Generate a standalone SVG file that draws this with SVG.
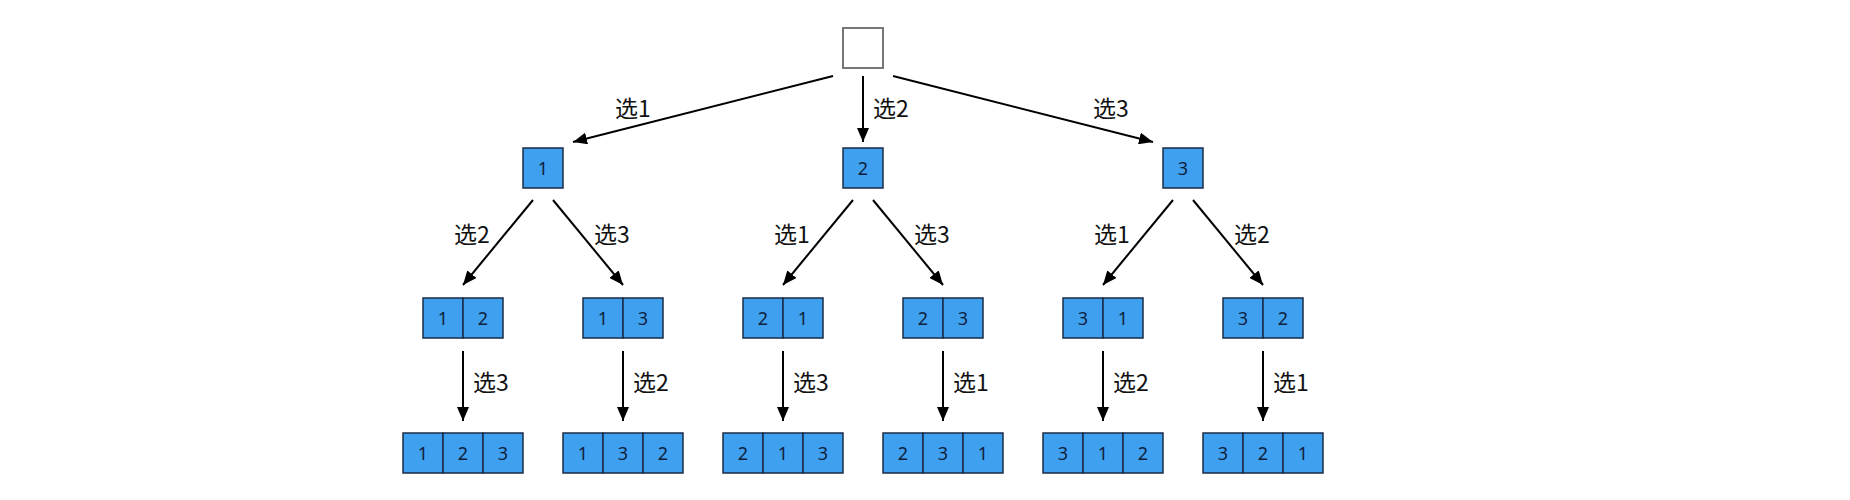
<svg xmlns="http://www.w3.org/2000/svg" width="1850" height="500" viewBox="0 0 1850 500">
<defs>
<style>
.cell{fill:#3fa0f0;stroke:#1b2b45;stroke-width:1.5}
.root{fill:#fff;stroke:#777;stroke-width:2}
.num{font-family:"Noto Sans","DejaVu Sans",sans-serif;font-size:18px;fill:#10203a;text-anchor:middle;dominant-baseline:central}
.lbl{font-family:"Noto Sans CJK SC","Noto Sans",sans-serif;font-size:23px;fill:#111;dominant-baseline:central}
.edge{stroke:#000;stroke-width:2;fill:none;marker-end:url(#ah)}
</style>
<marker id="ah" viewBox="0 0 14 12" refX="14" refY="6" markerWidth="14" markerHeight="12" markerUnits="userSpaceOnUse" orient="auto">
<path d="M0,0 L14,6 L0,12 Z" fill="#000"/>
</marker>
</defs>
<rect width="1850" height="500" fill="#fff"/>
<g id="connectors">
<line class="edge" x1="833" y1="76" x2="573" y2="142"/>
<line class="edge" x1="863" y1="76" x2="863" y2="142"/>
<line class="edge" x1="893" y1="76" x2="1153" y2="142"/>
<line class="edge" x1="533" y1="200" x2="463" y2="285"/>
<line class="edge" x1="553" y1="200" x2="623" y2="285"/>
<line class="edge" x1="853" y1="200" x2="783" y2="285"/>
<line class="edge" x1="873" y1="200" x2="943" y2="285"/>
<line class="edge" x1="1173" y1="200" x2="1103" y2="285"/>
<line class="edge" x1="1193" y1="200" x2="1263" y2="285"/>
<line class="edge" x1="463" y1="351" x2="463" y2="421"/>
<line class="edge" x1="623" y1="351" x2="623" y2="421"/>
<line class="edge" x1="783" y1="351" x2="783" y2="421"/>
<line class="edge" x1="943" y1="351" x2="943" y2="421"/>
<line class="edge" x1="1103" y1="351" x2="1103" y2="421"/>
<line class="edge" x1="1263" y1="351" x2="1263" y2="421"/>
<text class="lbl" x="615" y="107">选1</text>
<text class="lbl" x="873" y="107">选2</text>
<text class="lbl" x="1093" y="107">选3</text>
<text class="lbl" x="454" y="233">选2</text>
<text class="lbl" x="594" y="233">选3</text>
<text class="lbl" x="774" y="233">选1</text>
<text class="lbl" x="914" y="233">选3</text>
<text class="lbl" x="1094" y="233">选1</text>
<text class="lbl" x="1234" y="233">选2</text>
<text class="lbl" x="473" y="381">选3</text>
<text class="lbl" x="633" y="381">选2</text>
<text class="lbl" x="793" y="381">选3</text>
<text class="lbl" x="953" y="381">选1</text>
<text class="lbl" x="1113" y="381">选2</text>
<text class="lbl" x="1273" y="381">选1</text>
</g>
<g id="root"><rect class="root" x="843" y="28" width="40" height="40"/></g>
<g id="n1"><rect class="cell" x="523" y="148" width="40" height="40"/><text class="num" x="543" y="168">1</text></g>
<g id="n2"><rect class="cell" x="843" y="148" width="40" height="40"/><text class="num" x="863" y="168">2</text></g>
<g id="n3"><rect class="cell" x="1163" y="148" width="40" height="40"/><text class="num" x="1183" y="168">3</text></g>
<g id="n12"><rect class="cell" x="423" y="298" width="40" height="40"/><rect class="cell" x="463" y="298" width="40" height="40"/><text class="num" x="443" y="318">1</text><text class="num" x="483" y="318">2</text></g>
<g id="n13"><rect class="cell" x="583" y="298" width="40" height="40"/><rect class="cell" x="623" y="298" width="40" height="40"/><text class="num" x="603" y="318">1</text><text class="num" x="643" y="318">3</text></g>
<g id="n21"><rect class="cell" x="743" y="298" width="40" height="40"/><rect class="cell" x="783" y="298" width="40" height="40"/><text class="num" x="763" y="318">2</text><text class="num" x="803" y="318">1</text></g>
<g id="n23"><rect class="cell" x="903" y="298" width="40" height="40"/><rect class="cell" x="943" y="298" width="40" height="40"/><text class="num" x="923" y="318">2</text><text class="num" x="963" y="318">3</text></g>
<g id="n31"><rect class="cell" x="1063" y="298" width="40" height="40"/><rect class="cell" x="1103" y="298" width="40" height="40"/><text class="num" x="1083" y="318">3</text><text class="num" x="1123" y="318">1</text></g>
<g id="n32"><rect class="cell" x="1223" y="298" width="40" height="40"/><rect class="cell" x="1263" y="298" width="40" height="40"/><text class="num" x="1243" y="318">3</text><text class="num" x="1283" y="318">2</text></g>
<g id="n123"><rect class="cell" x="403" y="433" width="40" height="40"/><rect class="cell" x="443" y="433" width="40" height="40"/><rect class="cell" x="483" y="433" width="40" height="40"/><text class="num" x="423" y="453">1</text><text class="num" x="463" y="453">2</text><text class="num" x="503" y="453">3</text></g>
<g id="n132"><rect class="cell" x="563" y="433" width="40" height="40"/><rect class="cell" x="603" y="433" width="40" height="40"/><rect class="cell" x="643" y="433" width="40" height="40"/><text class="num" x="583" y="453">1</text><text class="num" x="623" y="453">3</text><text class="num" x="663" y="453">2</text></g>
<g id="n213"><rect class="cell" x="723" y="433" width="40" height="40"/><rect class="cell" x="763" y="433" width="40" height="40"/><rect class="cell" x="803" y="433" width="40" height="40"/><text class="num" x="743" y="453">2</text><text class="num" x="783" y="453">1</text><text class="num" x="823" y="453">3</text></g>
<g id="n231"><rect class="cell" x="883" y="433" width="40" height="40"/><rect class="cell" x="923" y="433" width="40" height="40"/><rect class="cell" x="963" y="433" width="40" height="40"/><text class="num" x="903" y="453">2</text><text class="num" x="943" y="453">3</text><text class="num" x="983" y="453">1</text></g>
<g id="n312"><rect class="cell" x="1043" y="433" width="40" height="40"/><rect class="cell" x="1083" y="433" width="40" height="40"/><rect class="cell" x="1123" y="433" width="40" height="40"/><text class="num" x="1063" y="453">3</text><text class="num" x="1103" y="453">1</text><text class="num" x="1143" y="453">2</text></g>
<g id="n321"><rect class="cell" x="1203" y="433" width="40" height="40"/><rect class="cell" x="1243" y="433" width="40" height="40"/><rect class="cell" x="1283" y="433" width="40" height="40"/><text class="num" x="1223" y="453">3</text><text class="num" x="1263" y="453">2</text><text class="num" x="1303" y="453">1</text></g>
</svg>
